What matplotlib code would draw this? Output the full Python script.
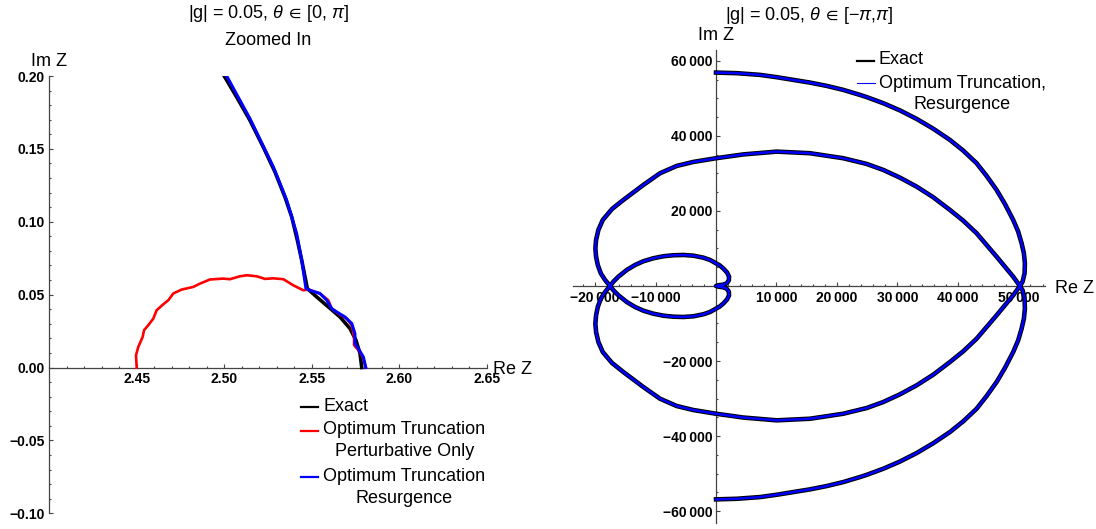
import numpy as np
import matplotlib
matplotlib.use("Agg")
import matplotlib.pyplot as plt
from matplotlib.lines import Line2D
from matplotlib.ticker import FixedLocator, MultipleLocator, FuncFormatter

plt.rcParams['font.family'] = ['Liberation Sans', 'DejaVu Sans']
plt.rcParams['mathtext.fontset'] = 'custom'
plt.rcParams['mathtext.rm'] = 'Liberation Sans'
plt.rcParams['mathtext.it'] = 'Liberation Sans:italic'
plt.rcParams['mathtext.bf'] = 'Liberation Sans:bold'
plt.rcParams['mathtext.fallback'] = 'stixsans'

# ---------------- data: left panel (zoomed, theta in [0, pi]) ----------------
exact_re = [2.5786, 2.5776, 2.5753, 2.5719, 2.5662, 2.5595, 2.5529, 2.5475, 2.5462,
            2.5443, 2.5418, 2.5386, 2.5347, 2.5290, 2.5223, 2.5147, 2.5071, 2.5000]
exact_im = [0.0000, 0.0096, 0.0187, 0.0267, 0.0347, 0.0416, 0.0484, 0.0542, 0.0621,
            0.0736, 0.0873, 0.1033, 0.1170, 0.1342, 0.1513, 0.1696, 0.1856, 0.2000]

pert_re = [2.5810, 2.5795, 2.5776, 2.5742, 2.5742, 2.5729, 2.5700, 2.5652, 2.5614,
           2.5595, 2.5547, 2.5481, 2.5452, 2.5395, 2.5338, 2.5281, 2.5233, 2.5186,
           2.5129, 2.5090, 2.5033, 2.4995, 2.4919, 2.4862, 2.4823, 2.4757, 2.4709,
           2.4681, 2.4652, 2.4614, 2.4595, 2.4566, 2.4542, 2.4534, 2.4509, 2.4496, 2.4500]
pert_im = [0.0000, 0.0062, 0.0107, 0.0153, 0.0210, 0.0290, 0.0336, 0.0370, 0.0405,
           0.0462, 0.0508, 0.0535, 0.0530, 0.0564, 0.0606, 0.0612, 0.0608, 0.0626,
           0.0633, 0.0626, 0.0606, 0.0610, 0.0604, 0.0576, 0.0553, 0.0535, 0.0508,
           0.0462, 0.0434, 0.0393, 0.0336, 0.0290, 0.0256, 0.0210, 0.0141, 0.0084, 0.0000]

resurg_re = [2.5809, 2.5795, 2.5766, 2.5747, 2.5747, 2.5729, 2.5690, 2.5643, 2.5614,
             2.5586, 2.5547, 2.5490, 2.5467, 2.5443, 2.5414, 2.5357, 2.5281, 2.5147, 2.5014]
resurg_im = [0.0000, 0.0073, 0.0130, 0.0165, 0.0233, 0.0302, 0.0347, 0.0381, 0.0405,
             0.0462, 0.0508, 0.0530, 0.0542, 0.0736, 0.0919, 0.1148, 0.1376, 0.1708, 0.2000]

# ---------------- data: right panel (theta in [0, pi]; theta<0 is the mirror) ----------------
spiral_re = [2.6, 496, 1157, 1736, 2116, 2149, 1818, 1207, 579, 0,
             -992, -2099, -3752, -5405, -7058, -8711, -10364, -12017, -13388, -14760,
             -16149, -16975, -17521,
             -18347, -19058, -19554, -19835, -19950, -19835, -19455, -18727, -17190,
             -15322, -12017, -9256, -6496, -3752, 0, 4512, 10033, 15537, 21041,
             24909, 27653, 30413, 33174, 35917, 38678, 40876, 43091, 44744, 46397,
             47769, 49140, 50248,
             50694, 51025, 51074, 50909, 50529, 49967, 49140, 47769, 46397, 44744,
             43091, 40876, 38678, 35917, 33174, 30413, 27653, 24909, 23802, 21041,
             18298, 15537, 12777, 10033, 7273, 3471, 0]
spiral_im = [0, 213, 347, 667, 1467, 2533, 3600, 4667, 5520, 6053,
             6933, 7547, 8080, 8267, 8187, 7920, 7387, 6587, 5600, 4267,
             2480, 1147, 0,
             -1600, -3387, -5600, -7813, -10053, -12267, -14933, -17600, -20533,
             -22933, -26933, -30053, -32000, -33067, -34053, -35067, -35813, -35387, -34053,
             -32533, -30933, -28880, -26480, -23653, -20267, -17413, -14053, -10933, -7813,
             -5147, -2480, 0,
             1147, 3387, 6053, 8720, 11387, 14480, 17600, 21867, 25600, 29333,
             32720, 36080, 38933, 41920, 44533, 46800, 48720, 50347, 50933, 52267,
             53333, 54213, 54933, 55653, 56267, 56720, 56880]

W, H = 1096, 529
fig = plt.figure(figsize=(W / 100, H / 100), dpi=100)


def fx(px):
    return px / W


def fy(py):
    return 1 - py / H


AX_COLOR = '#444444'


def style_axes(ax):
    for s in ('top', 'right'):
        ax.spines[s].set_visible(False)
    for s in ('left', 'bottom'):
        ax.spines[s].set_color(AX_COLOR)
        ax.spines[s].set_linewidth(0.9)
    ax.tick_params(which='both', direction='in', colors=AX_COLOR, labelcolor='black',
                   labelsize=10, pad=3.5, width=0.8)
    ax.tick_params(which='major', length=3.0)
    ax.tick_params(which='minor', length=1.5)
    ax.patch.set_visible(False)


def bold_ticks(ax):
    plt.setp(ax.get_xticklabels(), fontweight='bold')
    plt.setp(ax.get_yticklabels(), fontweight='bold')


# ---------------- left panel ----------------
axL = fig.add_axes([fx(49.2), fy(513.3), (486.7 - 49.2) / W, (513.3 - 76) / H])
axL.set_xlim(2.40, 2.65)
axL.set_ylim(-0.10, 0.20)
style_axes(axL)
axL.spines['bottom'].set_position(('data', 0))
axL.xaxis.set_major_locator(FixedLocator([2.45, 2.50, 2.55, 2.60, 2.65]))
axL.xaxis.set_minor_locator(MultipleLocator(0.01))
axL.yaxis.set_major_locator(FixedLocator([-0.10, -0.05, 0.0, 0.05, 0.10, 0.15, 0.20]))
axL.yaxis.set_minor_locator(MultipleLocator(0.01))
fmtL = FuncFormatter(lambda v, p: f"{v:.2f}".replace('-', '\u2212'))
axL.xaxis.set_major_formatter(fmtL)
axL.yaxis.set_major_formatter(fmtL)
bold_ticks(axL)

axL.plot(exact_re, exact_im, color='black', lw=2.6, zorder=3, solid_joinstyle='round')
axL.plot(pert_re, pert_im, color='#ff0000', lw=1.9, zorder=4, solid_joinstyle='round')
axL.plot(resurg_re, resurg_im, color='#0000ff', lw=2.2, zorder=5, solid_joinstyle='round')

# ---------------- right panel ----------------
axR = fig.add_axes([fx(572.7), fy(522.7), (1045 - 572.7) / W, (522.7 - 50) / H])
axR.set_xlim(-23700, 54400)
axR.set_ylim(-63100, 62900)
style_axes(axR)
axR.spines['left'].set_position(('data', 0))
axR.spines['bottom'].set_position(('data', 0))
axR.tick_params(axis='y', pad=2.5)
axR.xaxis.set_major_locator(FixedLocator([-20000, -10000, 10000, 20000, 30000, 40000, 50000]))
axR.xaxis.set_minor_locator(MultipleLocator(2000))
axR.yaxis.set_major_locator(FixedLocator([-60000, -40000, -20000, 20000, 40000, 60000]))
axR.yaxis.set_minor_locator(MultipleLocator(5000))


def big_fmt(v, p):
    s = f"{abs(int(round(v))):,}".replace(',', '\u2009')
    return ('\u2212' if v < 0 else '') + s


axR.xaxis.set_major_formatter(FuncFormatter(big_fmt))
axR.yaxis.set_major_formatter(FuncFormatter(big_fmt))
bold_ticks(axR)

sre = np.asarray(spiral_re, dtype=float)
sim = np.asarray(spiral_im, dtype=float)
full_re = np.concatenate([sre[::-1], sre])
full_im = np.concatenate([-sim[::-1], sim])
axR.plot(full_re, full_im, color='black', lw=3.3, zorder=3, solid_joinstyle='round')
axR.plot(full_re, full_im, color='#0000ff', lw=1.8, zorder=4, solid_joinstyle='round')

# ---------------- titles & axis labels ----------------
fig.text(fx(268), fy(45), "|g| = 0.05, $\\theta\\,\\in\\,$[0, $\\pi$]\nZoomed In", ha='center',
         va='baseline', multialignment='center', fontsize=13, linespacing=1.6)
fig.text(fx(809), fy(20), "|g| = 0.05, $\\theta\\,\\in\\,$[\u2212$\\pi$,$\\pi$]", ha='center',
         va='baseline', fontsize=13)
fig.text(fx(49), fy(66), "Im Z", ha='center', va='baseline', fontsize=13)
fig.text(fx(716), fy(40), "Im Z", ha='center', va='baseline', fontsize=13)
fig.text(fx(493), fy(374), "Re Z", ha='left', va='baseline', fontsize=13)
fig.text(fx(1055), fy(293), "Re Z", ha='left', va='baseline', fontsize=13)


# ---------------- legends ----------------
def leg_line(x0, x1, y, color, lw):
    fig.add_artist(Line2D([fx(x0), fx(x1)], [fy(y), fy(y)], transform=fig.transFigure,
                          color=color, lw=lw))


def leg_text(x, y_last, s):
    fig.text(fx(x), fy(y_last), s, ha='left', va='baseline', multialignment='center',
             fontsize=13, linespacing=1.36)


leg_line(300.7, 318.3, 407.3, 'black', 1.6)
leg_text(323.3, 411, "Exact")
leg_line(300.7, 318.3, 430.7, '#ff0000', 1.6)
leg_text(323.3, 456, "Optimum Truncation\nPerturbative Only")
leg_line(300.7, 318.3, 477.3, '#0000ff', 1.6)
leg_text(323.3, 503, "Optimum Truncation\nResurgence")

leg_line(857, 874, 61, 'black', 1.6)
leg_text(879, 64, "Exact")
leg_line(857, 875, 83.3, '#0000ff', 0.8)
leg_text(879, 109.3, "Optimum Truncation,\nResurgence")

fig.savefig("out.png", dpi=100)
